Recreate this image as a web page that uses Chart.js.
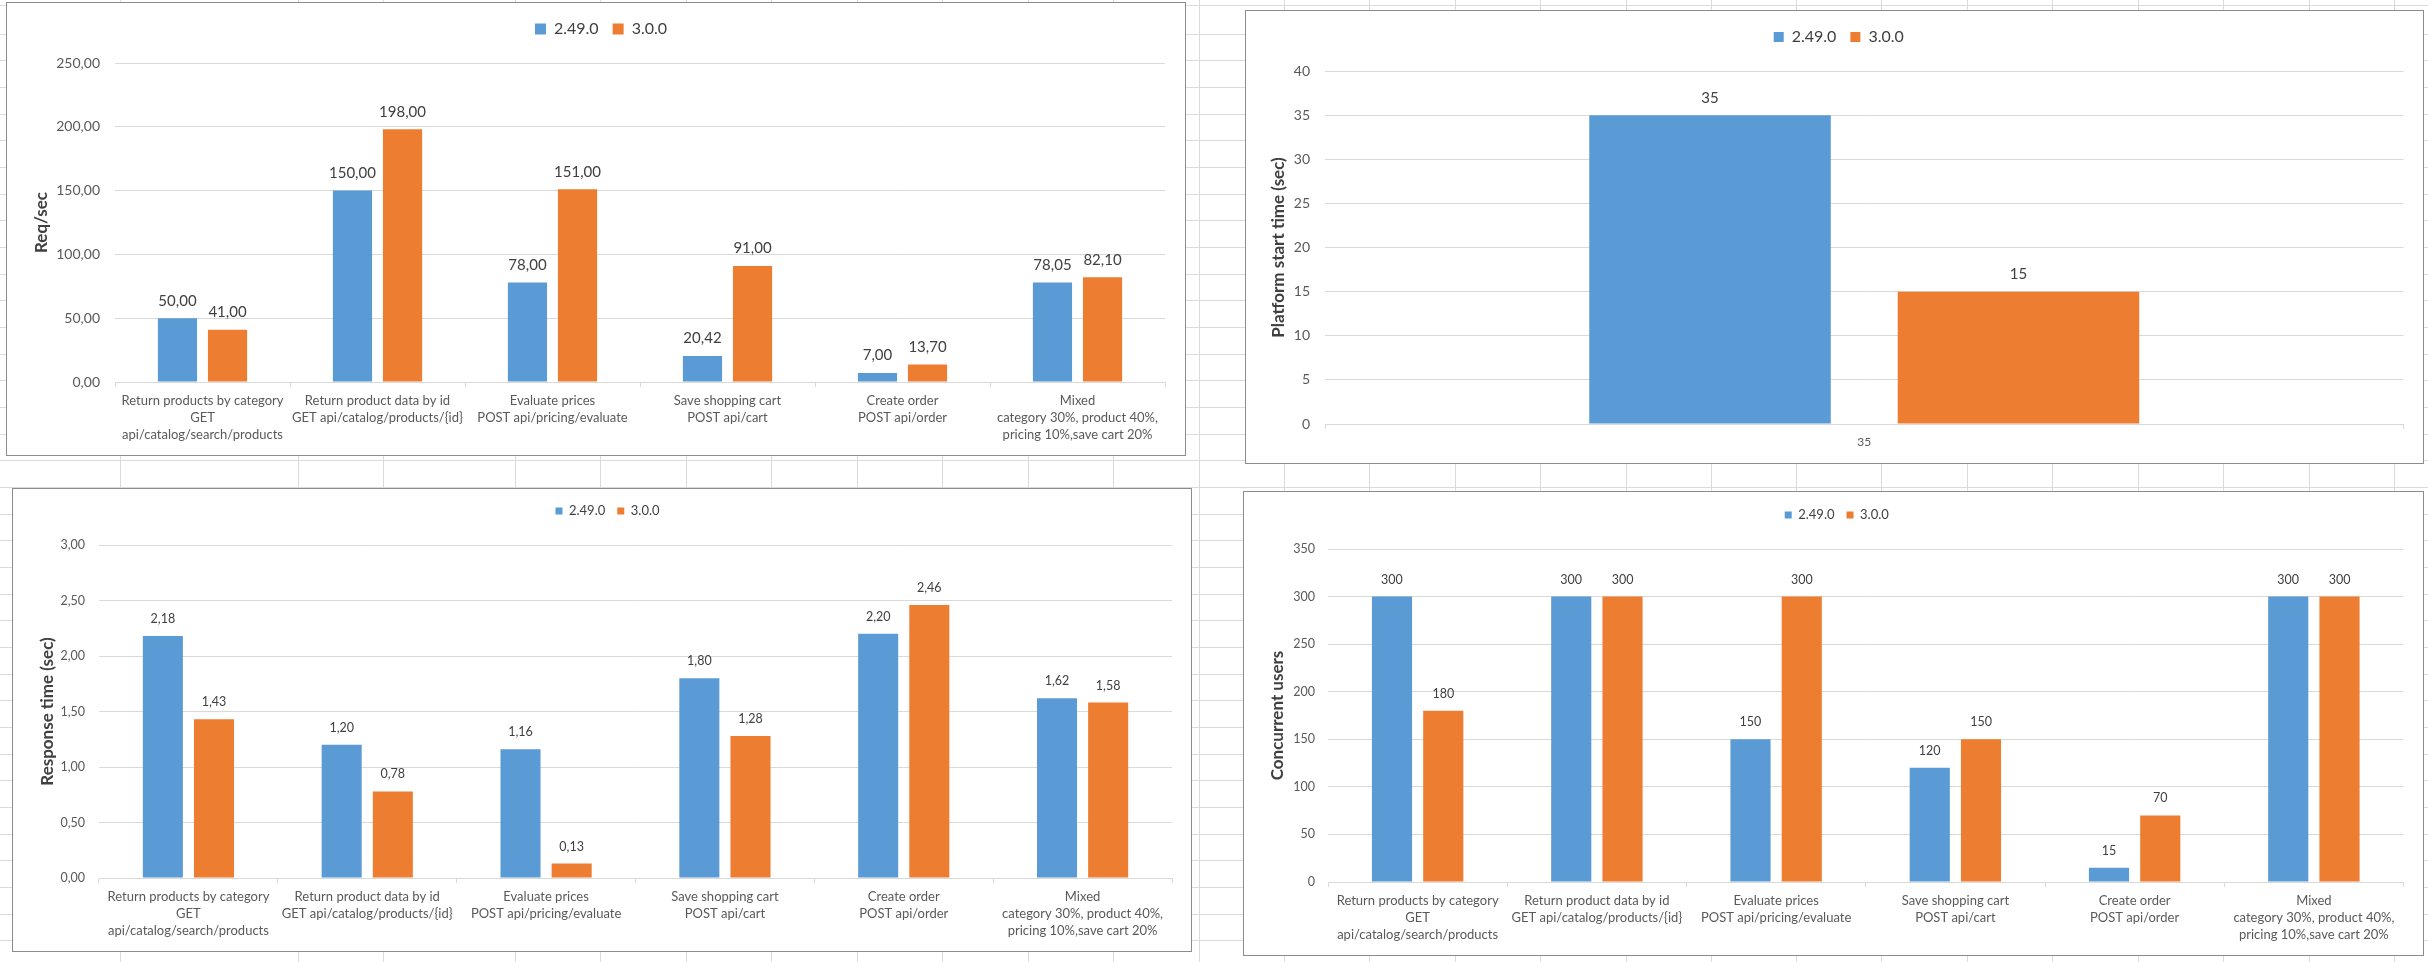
<!DOCTYPE html>
<html>
<head>
<meta charset="utf-8">
<script src="https://cdn.jsdelivr.net/npm/chart.js@4.4.1/dist/chart.umd.min.js"></script>
<style>
html,body{margin:0;padding:0;}
body{width:2428px;height:962px;overflow:hidden;position:relative;background-color:#fff;
 background-image:repeating-linear-gradient(to bottom, transparent 0px, transparent 25.67px, #dadada 25.67px, #dadada 26.67px);
 background-position:0 8px;}
.col{position:absolute;top:0;width:1px;height:962px;background:#dadada;}
.box{position:absolute;box-sizing:border-box;border:1px solid #8c8c8c;background:#fff;}
.box canvas{display:block;}
</style>
</head>
<body>
<div id="cols"></div>
<div class="box" style="left:6px;top:2px;width:1180px;height:454px;"><canvas id="c1" width="1178" height="452"></canvas></div>
<div class="box" style="left:1245px;top:10px;width:1179px;height:454px;"><canvas id="c2" width="1177" height="452"></canvas></div>
<div class="box" style="left:12px;top:488px;width:1180px;height:464px;"><canvas id="c3" width="1178" height="462"></canvas></div>
<div class="box" style="left:1243px;top:491px;width:1181px;height:465px;"><canvas id="c4" width="1179" height="463"></canvas></div>
<script>
// ---------- data ----------
const versions = ["2.49.0", "3.0.0"];
const scenarioLabels = [
  ["Return products by category", "GET", "api/catalog/search/products"],
  ["Return product data by id", "GET api/catalog/products/{id}"],
  ["Evaluate prices", "POST api/pricing/evaluate"],
  ["Save shopping cart", "POST api/cart"],
  ["Create order", "POST api/order"],
  ["Mixed", "category 30%, product 40%,", "pricing 10%,save cart 20%"]
];
const reqSec249 = [50.00, 150.00, 78.00, 20.42, 7.00, 78.05];
const reqSec300 = [41.00, 198.00, 151.00, 91.00, 13.70, 82.10];
const reqSecTickValues = [0, 50, 100, 150, 200, 250];
const reqSecTickLabels = ["0,00", "50,00", "100,00", "150,00", "200,00", "250,00"];

const startLabels = ["35"];
const start249 = [35];
const start300 = [15];
const startTickValues = [0, 5, 10, 15, 20, 25, 30, 35, 40];
const startTickLabels = ["0", "5", "10", "15", "20", "25", "30", "35", "40"];

const resp249 = [2.18, 1.20, 1.16, 1.80, 2.20, 1.62];
const resp300 = [1.43, 0.78, 0.13, 1.28, 2.46, 1.58];
const respTickValues = [0, 0.5, 1, 1.5, 2, 2.5, 3];
const respTickLabels = ["0,00", "0,50", "1,00", "1,50", "2,00", "2,50", "3,00"];

const users249 = [300, 300, 150, 120, 15, 300];
const users300 = [180, 300, 300, 150, 70, 300];
const usersTickValues = [0, 50, 100, 150, 200, 250, 300, 350];
const usersTickLabels = ["0", "50", "100", "150", "200", "250", "300", "350"];

// ---------- columns of the sheet behind ----------
const sheetCols = [120, 298, 383, 515, 600, 686, 771, 857, 942, 1028, 1113, 1199, 1284, 1369, 1455, 1540, 1626, 1711, 1796, 1881, 1967, 2052, 2138, 2223, 2309, 2394];
const colsDiv = document.getElementById('cols');
sheetCols.forEach(x => { const d = document.createElement('div'); d.className = 'col'; d.style.left = x + 'px'; colsDiv.appendChild(d); });

// ---------- style ----------
const FONT = "Lato, 'Liberation Sans', sans-serif";
const BLUE = '#5B9BD5';
const ORANGE = '#ED7D31';
const GRID = '#d9d9d9';
const TICK = '#595959';
const TEXT = '#404040';
const CP = 0.572, BP = 0.783;

const comma2 = v => v.toFixed(2).replace('.', ',');
const plain = v => String(v);

function makeChart(id, s) {
  const legendFix = {
    id: 'legendFix',
    beforeLayout(chart) {
      const lg = chart.legend;
      if (lg && !lg.__fixed) {
        const fit = lg.fit;
        lg.fit = function () { fit.call(this); this.height = s.legendH; };
        lg.__fixed = true;
      }
    },
    afterLayout(chart) {
      const lg = chart.legend;
      if (lg) { lg.left += s.legendDx; lg.right += s.legendDx; }
    }
  };
  const barLabels = {
    id: 'barLabels',
    afterDatasetsDraw(chart) {
      const ctx = chart.ctx;
      ctx.save();
      ctx.font = s.valueSize + 'px ' + FONT;
      ctx.fillStyle = TEXT;
      ctx.textAlign = 'center';
      ctx.textBaseline = 'middle';
      chart.data.datasets.forEach((ds, i) => {
        chart.getDatasetMeta(i).data.forEach((el, j) => {
          ctx.fillText(s.fmt(ds.data[j]), el.x, el.y - s.valueOffset);
        });
      });
      ctx.restore();
    }
  };
  return new Chart(document.getElementById(id), {
    type: 'bar',
    data: {
      labels: s.labels,
      datasets: [
        { label: versions[0], data: s.a, backgroundColor: BLUE, borderWidth: 0, categoryPercentage: CP, barPercentage: BP },
        { label: versions[1], data: s.b, backgroundColor: ORANGE, borderWidth: 0, categoryPercentage: CP, barPercentage: BP }
      ]
    },
    options: {
      responsive: false,
      animation: false,
      layout: { autoPadding: false, padding: { top: s.padTop, left: 0, right: s.padRight, bottom: 0 } },
      plugins: {
        legend: {
          position: 'top', align: 'center',
          labels: { font: { family: FONT, size: s.legendSize }, color: TEXT, boxWidth: s.box, boxHeight: s.box, padding: s.legendPad }
        },
        tooltip: { enabled: false }
      },
      scales: {
        x: {
          grid: { display: true, drawOnChartArea: false, color: GRID, tickLength: 5, offset: true },
          border: { color: GRID },
          ticks: { font: { family: FONT, size: s.xSize, lineHeight: 1.3 }, color: TICK, padding: s.xPad, maxRotation: 0, minRotation: 0, autoSkip: false },
          afterFit: sc => { sc.height = s.xH; }
        },
        y: {
          min: s.tickValues[0], max: s.tickValues[s.tickValues.length - 1],
          grid: { color: GRID, drawTicks: false },
          border: { display: false },
          afterBuildTicks: sc => { sc.ticks = s.tickValues.map(v => ({ value: v })); },
          ticks: { font: { family: FONT, size: s.ySize }, color: TICK, padding: s.yPad,
                   callback: (v, i) => s.tickLabels[i] },
          title: { display: true, text: s.title, color: TEXT,
                   font: { family: FONT, size: s.titleSize, weight: 'bold', lineHeight: 1.2 },
                   padding: { top: s.titlePad, bottom: 0 } },
          afterFit: sc => { sc.width = s.yW; }
        }
      }
    },
    plugins: [legendFix, barLabels]
  });
}

makeChart('c1', {
  labels: scenarioLabels, a: reqSec249, b: reqSec300,
  tickValues: reqSecTickValues, tickLabels: reqSecTickLabels, fmt: comma2,
  title: 'Req/sec', titleSize: 17, titlePad: 24.3,
  padTop: 4, legendPad: 14, legendSize: 16, box: 11, legendH: 56, legendDx: 15,
  yW: 108, padRight: 20, xH: 73, yPad: 15, ySize: 14, xSize: 13, xPad: 5.5,
  valueSize: 15, valueOffset: 17.5
});
makeChart('c2', {
  labels: startLabels, a: start249, b: start300,
  tickValues: startTickValues, tickLabels: startTickLabels, fmt: plain,
  title: 'Platform start time (sec)', titleSize: 17, titlePad: 22.8,
  padTop: 4, legendPad: 14, legendSize: 16, box: 10, legendH: 56, legendDx: 14,
  yW: 79, padRight: 19.5, xH: 39, yPad: 15, ySize: 14, xSize: 12, xPad: 5,
  valueSize: 15, valueOffset: 17
});
makeChart('c3', {
  labels: scenarioLabels, a: resp249, b: resp300,
  tickValues: respTickValues, tickLabels: respTickLabels, fmt: comma2,
  title: 'Response time (sec)', titleSize: 17, titlePad: 24.3,
  padTop: 3.5, legendPad: 12, legendSize: 13, box: 7, legendH: 52.5, legendDx: 15,
  yW: 86, padRight: 19, xH: 73, yPad: 14, ySize: 12.5, xSize: 13, xPad: 5.5,
  valueSize: 12.5, valueOffset: 17
});
makeChart('c4', {
  labels: scenarioLabels, a: users249, b: users300,
  tickValues: usersTickValues, tickLabels: usersTickLabels, fmt: plain,
  title: 'Concurrent users', titleSize: 17, titlePad: 23.8,
  padTop: 4.5, legendPad: 12, legendSize: 13, box: 7, legendH: 52.5, legendDx: 13,
  yW: 84, padRight: 19.5, xH: 73, yPad: 13, ySize: 12.5, xSize: 13, xPad: 5.5,
  valueSize: 12.5, valueOffset: 17
});
</script>
</body>
</html>
